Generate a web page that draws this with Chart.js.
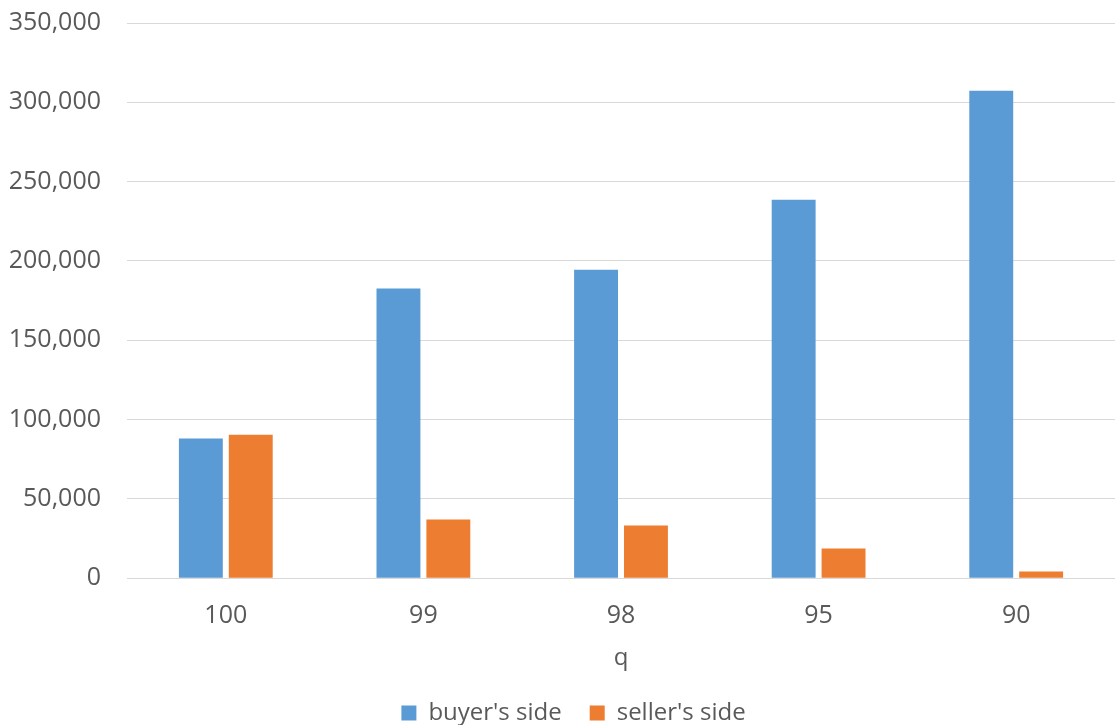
<!DOCTYPE html>
<html>
<head>
<meta charset="utf-8">
<script src="https://cdn.jsdelivr.net/npm/chart.js@4"></script>
<style>
  html, body { margin: 0; padding: 0; background: #fff; }
  #wrap { width: 1115px; height: 725px; }
</style>
</head>
<body>
<div id="wrap"><canvas id="chart"></canvas></div>
<script>
  var categories = ['100', '99', '98', '95', '90'];
  var buyerSide = [88000, 182600, 194500, 238600, 307300];
  var sellerSide = [90500, 37000, 33300, 18800, 4300];
  var yTicks = [0, 50000, 100000, 150000, 200000, 250000, 300000, 350000];

  var textColor = '#595959';
  var font = "'Open Sans', 'Noto Sans', sans-serif";

  // legend in the original sits a little right of the page centre
  var legendNudge = {
    id: 'legendNudge',
    afterLayout: function (chart) {
      chart.legend.left += 14;
      chart.legend.right += 14;
    }
  };

  new Chart(document.getElementById('chart').getContext('2d'), {
    type: 'bar',
    data: {
      labels: categories,
      datasets: [{
        label: "buyer's side",
        data: buyerSide,
        backgroundColor: '#5b9bd5',
        categoryPercentage: 0.505,
        barPercentage: 0.88
      }, {
        label: "seller's side",
        data: sellerSide,
        backgroundColor: '#ed7d31',
        categoryPercentage: 0.505,
        barPercentage: 0.88
      }]
    },
    options: {
      responsive: true,
      maintainAspectRatio: false,
      animation: false,
      layout: { padding: { top: 23, right: 0, left: 4, bottom: -10 } },
      plugins: {
        legend: {
          position: 'bottom',
          labels: {
            color: textColor,
            font: { family: font, size: 24 },
            boxWidth: 15,
            boxHeight: 15,
            padding: 28
          }
        },
        tooltip: { enabled: false }
      },
      scales: {
        x: {
          grid: { display: false },
          border: { color: '#d9d9d9', width: 1 },
          ticks: { color: textColor, font: { family: font, size: 25 }, padding: 15 },
          title: {
            display: true,
            text: 'q',
            color: textColor,
            font: { family: font, size: 24 },
            padding: { top: -2, bottom: 0 }
          }
        },
        y: {
          min: 0,
          max: 350000,
          afterBuildTicks: function (axis) {
            axis.ticks = yTicks.map(function (v) { return { value: v }; });
          },
          afterFit: function (axis) { axis.width = 123; },
          grid: { color: '#d9d9d9', lineWidth: 1, drawTicks: true, tickLength: 22, tickColor: 'rgba(0,0,0,0)' },
          border: { display: false },
          ticks: {
            color: textColor,
            font: { family: font, size: 25 },
            padding: 4,
            callback: function (v) { return v.toLocaleString('en-US'); }
          }
        }
      }
    },
    plugins: [legendNudge]
  });
</script>
</body>
</html>
